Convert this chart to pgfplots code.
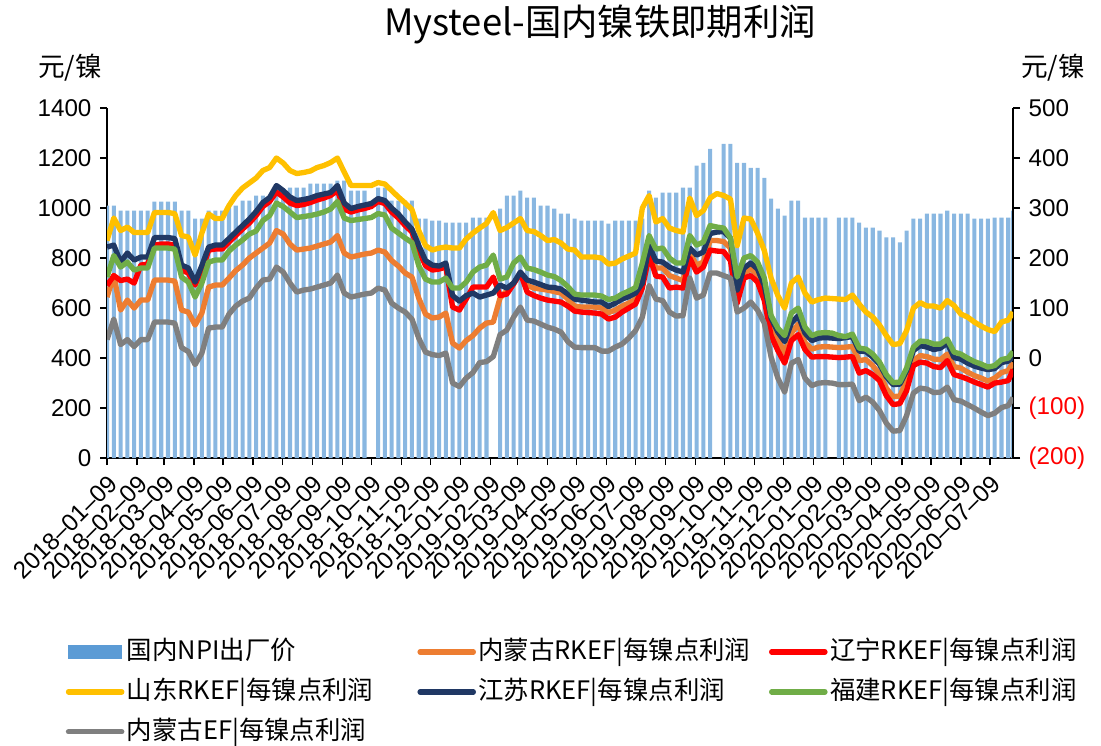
\documentclass[border=0pt]{standalone}
\usepackage{fontspec}
\setmainfont{Liberation Sans}
\newfontfamily\cjk{Noto Sans CJK SC}
\usepackage{pgfplots}
\pgfplotsset{compat=1.18}
\usepackage{pgfplotstable}

\definecolor{npiblue}{HTML}{5B9BD5}
\definecolor{nmgorange}{HTML}{ED7D31}
\definecolor{lnred}{HTML}{FF0000}
\definecolor{sdyellow}{HTML}{FFC000}
\definecolor{jsnavy}{HTML}{203864}
\definecolor{fjgreen}{HTML}{70AD47}
\definecolor{efgray}{HTML}{7F7F7F}

% d = days since 2018-01-09; bar = NPI price (left axis); others = profit (right axis)
\pgfplotstableread{
d bar sd js ln fj nm ef
0 1010 235 222 145 162 122 37
7 1010 280 226 165 205 165 78
14 990 255 192 155 182 96 27
21 990 262 210 158 192 116 37
28 990 251 196 150 176 100 23
35 990 251 202 186 180 116 37
42 990 251 202 188 180 116 37
49 1026 291 241 226 220 156 72
56 1026 291 241 228 220 156 72
63 1026 291 241 228 220 156 72
70 1026 289 239 226 218 154 70
77 990 245 186 176 162 96 21
84 990 242 180 170 152 92 13
91 958 206 152 146 122 66 -13
98 958 250 185 175 150 90 10
105 990 288 222 216 192 142 60
112 990 279 226 218 196 146 62
119 990 279 226 218 196 146 62
126 1010 305 239 232 214 160 88
133 1010 325 252 245 226 175 104
140 1030 340 265 258 236 186 114
147 1030 350 278 270 248 200 120
154 1050 360 293 285 254 210 140
161 1050 375 311 303 275 220 156
168 1050 381 321 313 285 230 158
175 1050 400 345 332 310 255 182
182 1078 390 335 322 303 248 172
189 1082 375 322 310 292 228 150
196 1082 369 315 305 281 216 132
203 1082 371 317 307 283 218 136
210 1098 374 320 311 285 220 138
217 1098 381 325 316 288 224 142
224 1098 385 328 320 292 228 146
231 1098 391 331 325 298 232 150
238 1110 400 345 335 313 245 166
245 1110 372 310 298 280 210 130
252 1070 345 299 292 275 202 122
259 1070 345 303 296 277 205 125
266 1070 345 306 299 279 208 128
273 nan 345 309 303 281 210 130
280 1082 351 319 313 289 216 140
287 1082 348 315 309 286 212 136
294 1030 335 300 292 260 195 110
301 1030 322 288 280 250 184 100
308 1030 310 272 265 240 170 92
315 1030 297 258 252 231 162 78
322 958 255 225 215 185 120 40
329 958 225 195 185 158 88 12
336 950 216 186 176 152 80 7
343 950 220 184 178 152 82 5
350 942 222 190 182 160 90 10
357 942 220 125 102 140 30 -50
364 942 220 114 96 140 20 -57
371 942 238 125 118 152 35 -40
378 962 250 130 142 172 45 -29
385 962 260 122 142 182 60 -9
392 962 269 126 142 186 70 -7
399 nan 291 130 162 206 72 3
406 998 255 146 125 158 120 47
413 1050 261 140 128 162 135 56
420 1050 270 150 148 190 150 82
427 1070 279 172 170 202 168 102
434 1042 255 156 132 180 145 76
441 1042 253 152 125 177 140 74
448 1010 245 147 120 172 138 68
455 1010 235 142 116 166 136 62
462 998 237 141 114 163 133 58
469 978 230 138 112 155 130 52
476 978 218 128 104 143 118 33
483 958 216 118 94 128 104 22
490 950 202 116 92 126 102 21
497 950 202 114 91 126 102 21
504 950 202 112 90 126 102 21
511 950 200 112 88 124 100 14
518 938 188 103 78 117 91 14
525 950 190 110 82 120 96 22
532 950 198 118 92 128 104 28
539 950 204 123 100 134 110 40
546 950 210 130 108 141 118 55
553 958 300 150 140 190 150 82
560 1070 325 225 205 245 205 145
567 1042 272 194 164 218 180 118
574 1062 279 192 162 220 180 115
581 1062 260 182 140 200 165 92
588 1062 255 176 142 190 160 84
595 1082 252 172 140 190 155 85
602 1082 320 220 200 245 210 160
609 1170 285 206 172 226 186 120
616 1181 295 212 182 232 192 126
623 1237 320 249 216 265 235 170
630 nan 329 252 214 262 235 170
637 1257 325 253 213 260 233 165
644 1257 318 240 195 240 220 160
651 1181 225 136 110 162 126 92
658 1181 280 180 160 200 170 100
665 1161 278 190 165 205 178 112
672 1161 250 178 152 192 168 96
679 1121 215 145 115 160 130 70
686 1038 160 80 45 85 65 2
693 998 125 52 15 60 38 -40
700 970 100 33 -10 45 10 -68
707 1030 150 70 35 90 50 -10
714 1030 162 85 47 100 68 -3
721 962 130 50 17 62 31 -40
728 962 112 35 2 45 18 -55
735 962 117 40 3 50 22 -50
742 962 120 41 3 51 23 -49
749 nan 119 40 2 50 22 -50
756 962 118 39 1 45 21 -53
763 962 117 41 2 43 22 -53
770 962 126 43 3 48 23 -52
777 942 108 14 -30 20 -5 -85
784 922 92 13 -25 18 -3 -78
791 922 82 2 -33 8 -15 -88
798 910 66 -12 -45 -8 -32 -105
805 883 45 -37 -75 -33 -60 -130
812 883 27 -53 -93 -49 -77 -146
819 863 29 -52 -91 -48 -76 -145
826 910 55 -25 -65 -20 -45 -115
833 958 100 15 -15 22 -5 -70
840 958 111 25 -8 34 5 -60
847 978 104 22 -10 33 3 -62
854 978 104 17 -17 28 -2 -69
861 978 100 20 -19 28 -3 -68
868 990 115 30 -5 38 8 -58
875 978 105 1 -33 12 -17 -83
882 978 88 -2 -37 8 -20 -86
889 978 82 -10 -42 0 -28 -93
896 958 72 -16 -48 -7 -35 -100
903 958 64 -20 -53 -12 -40 -108
910 958 57 -23 -58 -18 -46 -115
917 962 53 -21 -50 -15 -40 -110
924 962 72 -9 -48 -3 -29 -99
931 962 76 -6 -45 0 -25 -95
936 990 92 3 -23 13 -9 -79
}\profit

\pgfplotsset{
  base/.style={
    scale only axis, width=374.2pt, height=144.6pt,
    xmin=0, xmax=936,
    tick align=outside, major tick length=2.9pt,
    tick style={black, line width=0.6pt},
    axis line style={black, line width=0.8pt, -},
    tick label style={font=\fontsize{10}{12}\selectfont},
    /pgf/number format/assume math mode=true,
    /pgf/number format/1000 sep={},
    clip mode=individual,
  },
  prof/.style={line width=2.2pt, line join=round, no marks},
}

\begin{document}
\begin{tikzpicture}
\begin{axis}[base,
  ymin=0, ymax=1400,
  axis x line*=bottom, axis y line*=left,
  ytick={0,200,...,1400},
  xtick={0,31,59,90,120,151,181,212,243,273,304,334,365,396,424,455,485,516,546,577,608,638,669,699,730,761,790,821,851,882,912},
  xticklabels={2018--01--09,2018--02--09,2018--03--09,2018--04--09,2018--05--09,2018--06--09,2018--07--09,2018--08--09,2018--09--09,2018--10--09,2018--11--09,2018--12--09,2019--01--09,2019--02--09,2019--03--09,2019--04--09,2019--05--09,2019--06--09,2019--07--09,2019--08--09,2019--09--09,2019--10--09,2019--11--09,2019--12--09,2020--01--09,2020--02--09,2020--03--09,2020--04--09,2020--05--09,2020--06--09,2020--07--09},
  xticklabel style={rotate=45, anchor=east, yshift=-6pt, xshift=1pt},
]
\addplot[ybar, bar width=4.2, fill=npiblue!72!white, draw=none] table[x=d, y=bar]{\profit};
\coordinate (bl) at (rel axis cs:0,0);
\coordinate (tr) at (rel axis cs:1,1);
\end{axis}

\begin{axis}[base,
  ymin=-200, ymax=500,
  axis x line=none, axis y line*=right,
  ytick={-200,-100,...,500},
  yticklabels={\textcolor{red}{(200)},\textcolor{red}{(100)},0,100,200,300,400,500},
  legend columns=3,
  legend cell align=left,
  legend image code/.code={\draw[#1, line cap=round] (0pt,0pt) -- (22pt,0pt);},
  legend style={at={(-0.054,-0.495)}, anchor=north west, draw=none, fill=none,
    font=\cjk\fontsize{10.5}{12}\selectfont, row sep=4pt,
    nodes={inner sep=1pt, text height=8.5pt, text depth=2pt}},
]
\addlegendimage{legend image code/.code={\fill[npiblue] (0pt,-2.8pt) rectangle (22pt,2.8pt);}}
\addlegendentry{\makebox[119pt][l]{国内NPI出厂价}}
\addplot[prof, nmgorange] table[x=d, y=nm]{\profit};
\addlegendentry{\makebox[119pt][l]{内蒙古RKEF|每镍点利润}}
\addplot[prof, lnred] table[x=d, y=ln]{\profit};
\addlegendentry{辽宁RKEF|每镍点利润}
\addplot[prof, sdyellow] table[x=d, y=sd]{\profit};
\addlegendentry{\makebox[119pt][l]{山东RKEF|每镍点利润}}
\addplot[prof, jsnavy] table[x=d, y=js]{\profit};
\addlegendentry{\makebox[119pt][l]{江苏RKEF|每镍点利润}}
\addplot[prof, fjgreen] table[x=d, y=fj]{\profit};
\addlegendentry{福建RKEF|每镍点利润}
\addplot[prof, efgray] table[x=d, y=ef]{\profit};
\addlegendentry{\makebox[119pt][l]{内蒙古EF|每镍点利润}}
\node at (axis description cs:0.544,1.24) {\cjk\fontsize{15}{18}\selectfont Mysteel-国内镍铁即期利润};
\node at (axis description cs:-0.041,1.114) {\cjk\fontsize{11}{13}\selectfont 元/镍};
\node at (axis description cs:1.044,1.114) {\cjk\fontsize{11}{13}\selectfont 元/镍};
\end{axis}
\pgfresetboundingbox
\path[use as bounding box] ([shift={(-44.2pt,-118.5pt)}]bl) rectangle ([shift={(36.3pt,44.6pt)}]tr);
\end{tikzpicture}
\end{document}
